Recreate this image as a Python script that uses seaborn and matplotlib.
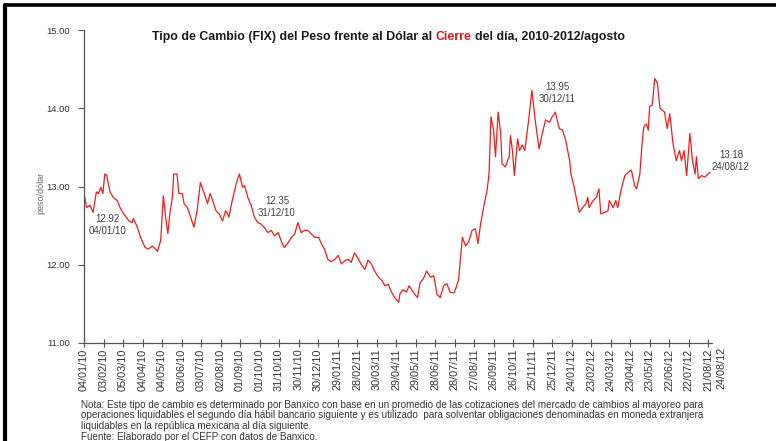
import matplotlib
matplotlib.use("Agg")
import pandas as pd
import matplotlib.pyplot as plt
import seaborn as sns
from matplotlib.lines import Line2D

# Datos (FIX, peso por dolar)
fechas = [
    "2010-01-04", "2010-01-08", "2010-01-13", "2010-01-18", "2010-01-23", "2010-01-26", "2010-01-30",
    "2010-02-02", "2010-02-05", "2010-02-08", "2010-02-13", "2010-02-18", "2010-02-24",
    "2010-03-01", "2010-03-06", "2010-03-14", "2010-03-19", "2010-03-21", "2010-03-27",
    "2010-04-01", "2010-04-08", "2010-04-13", "2010-04-19", "2010-04-24", "2010-04-27",
    "2010-05-02", "2010-05-06", "2010-05-09", "2010-05-13", "2010-05-16", "2010-05-20", "2010-05-22",
    "2010-05-27", "2010-05-30", "2010-06-04", "2010-06-07", "2010-06-12", "2010-06-17", "2010-06-22",
    "2010-06-27", "2010-07-02", "2010-07-08", "2010-07-13", "2010-07-17", "2010-07-21", "2010-07-26",
    "2010-07-31", "2010-08-05", "2010-08-10", "2010-08-15", "2010-08-20", "2010-08-26", "2010-08-31",
    "2010-09-05", "2010-09-08", "2010-09-13", "2010-09-18", "2010-09-23", "2010-09-28",
    "2010-10-03", "2010-10-08", "2010-10-14", "2010-10-19", "2010-10-24", "2010-10-30",
    "2010-11-03", "2010-11-08", "2010-11-13", "2010-11-19", "2010-11-24", "2010-11-29",
    "2010-12-04", "2010-12-09", "2010-12-14", "2010-12-20", "2010-12-25", "2010-12-31",
    "2011-01-04", "2011-01-09", "2011-01-14", "2011-01-19", "2011-01-25", "2011-01-30",
    "2011-02-04", "2011-02-09", "2011-02-14", "2011-02-19", "2011-02-24",
    "2011-03-01", "2011-03-06", "2011-03-12", "2011-03-17", "2011-03-22", "2011-03-27",
    "2011-04-02", "2011-04-07", "2011-04-12", "2011-04-17", "2011-04-22", "2011-04-27",
    "2011-05-03", "2011-05-05", "2011-05-10", "2011-05-15", "2011-05-19", "2011-05-23", "2011-05-28",
    "2011-06-01", "2011-06-05", "2011-06-10", "2011-06-15", "2011-06-21", "2011-06-26",
    "2011-07-01", "2011-07-06", "2011-07-11", "2011-07-16", "2011-07-21", "2011-07-27", "2011-07-30",
    "2011-08-03", "2011-08-09", "2011-08-14", "2011-08-19", "2011-08-24", "2011-08-29",
    "2011-09-02", "2011-09-06", "2011-09-11", "2011-09-16", "2011-09-19", "2011-09-22", "2011-09-26",
    "2011-09-29", "2011-10-03", "2011-10-07", "2011-10-09", "2011-10-14", "2011-10-20", "2011-10-22",
    "2011-10-25", "2011-10-28", "2011-11-02", "2011-11-05", "2011-11-09", "2011-11-13", "2011-11-19",
    "2011-11-24", "2011-11-29", "2011-12-05", "2011-12-10", "2011-12-15", "2011-12-21", "2011-12-25",
    "2011-12-28", "2011-12-30",
    "2012-01-05", "2012-01-10", "2012-01-15", "2012-01-21", "2012-01-23", "2012-01-28",
    "2012-02-02", "2012-02-05", "2012-02-10", "2012-02-15", "2012-02-18", "2012-02-20", "2012-02-26",
    "2012-03-02", "2012-03-06", "2012-03-09", "2012-03-15", "2012-03-20", "2012-03-22", "2012-03-28",
    "2012-04-01", "2012-04-04", "2012-04-09", "2012-04-15", "2012-04-20", "2012-04-25", "2012-04-30",
    "2012-05-03", "2012-05-08", "2012-05-11", "2012-05-14", "2012-05-18", "2012-05-21", "2012-05-23",
    "2012-05-27", "2012-05-31", "2012-06-04", "2012-06-08", "2012-06-12", "2012-06-15", "2012-06-19",
    "2012-06-23", "2012-06-28", "2012-07-03", "2012-07-08", "2012-07-11", "2012-07-15", "2012-07-19",
    "2012-07-24", "2012-07-28", "2012-08-01", "2012-08-03", "2012-08-06", "2012-08-11", "2012-08-16",
    "2012-08-21", "2012-08-24",
]
tipo_cambio = [
    12.92, 12.73, 12.76, 12.67, 12.93, 12.91, 12.99,
    12.91, 13.16, 13.14, 12.93, 12.86, 12.82,
    12.72, 12.65, 12.56, 12.54, 12.59, 12.48,
    12.35, 12.22, 12.20, 12.24, 12.20, 12.17,
    12.31, 12.88, 12.65, 12.40, 12.65, 12.86, 13.16,
    13.16, 12.91, 12.91, 12.78, 12.73, 12.61, 12.48,
    12.69, 13.05, 12.91, 12.78, 12.91, 12.82, 12.69,
    12.65, 12.56, 12.69, 12.61, 12.82, 13.03, 13.16,
    12.99, 13.01, 12.86, 12.76, 12.61, 12.54,
    12.52, 12.48, 12.41, 12.44, 12.37, 12.41,
    12.31, 12.22, 12.27, 12.35, 12.39, 12.54,
    12.41, 12.44, 12.44, 12.39, 12.35, 12.35,
    12.27, 12.20, 12.07, 12.04, 12.07, 12.12,
    12.01, 12.05, 12.07, 12.03, 12.15,
    12.09, 12.01, 11.94, 12.06, 12.01, 11.92,
    11.84, 11.80, 11.73, 11.75, 11.65, 11.58,
    11.52, 11.63, 11.68, 11.65, 11.73, 11.68, 11.62,
    11.58, 11.77, 11.82, 11.92, 11.84, 11.86,
    11.62, 11.58, 11.73, 11.76, 11.65, 11.64, 11.70,
    11.80, 12.35, 12.24, 12.30, 12.44, 12.46,
    12.27, 12.52, 12.75, 12.95, 13.16, 13.89, 13.72,
    13.38, 13.95, 13.68, 13.29, 13.25, 13.38, 13.65,
    13.46, 13.14, 13.61, 13.46, 13.53, 13.46, 13.85,
    14.23, 13.85, 13.48, 13.68, 13.85, 13.82, 13.89,
    13.92, 13.95,
    13.74, 13.72, 13.59, 13.33, 13.16, 12.99,
    12.78, 12.67, 12.73, 12.78, 12.86, 12.73, 12.82,
    12.86, 12.97, 12.65, 12.67, 12.69, 12.82, 12.73,
    12.82, 12.73, 12.95, 13.14, 13.18, 13.21, 13.01,
    12.97, 13.16, 13.50, 13.76, 13.80, 13.72, 14.02,
    14.04, 14.38, 14.32, 14.00, 13.97, 13.95, 13.74,
    13.93, 13.55, 13.33, 13.46, 13.33, 13.46, 13.14,
    13.68, 13.33, 13.16, 13.38, 13.10, 13.14, 13.12,
    13.16, 13.18,
]

etiquetas_x = [
    "04/01/10", "03/02/10", "05/03/10", "04/04/10", "04/05/10", "03/06/10", "03/07/10",
    "02/08/10", "01/09/10", "01/10/10", "31/10/10", "30/11/10", "30/12/10", "29/01/11",
    "28/02/11", "30/03/11", "29/04/11", "29/05/11", "28/06/11", "28/07/11", "27/08/11",
    "26/09/11", "26/10/11", "25/11/11", "25/12/11", "24/01/12", "23/02/12", "24/03/12",
    "23/04/12", "23/05/12", "22/06/12", "22/07/12", "21/08/12",
]
ultima_fecha = "24/08/12"
yticks = [11, 12, 13, 14, 15]

# puntos destacados: (fecha, valor)
destacados = [("04/01/10", 12.92), ("31/12/10", 12.35), ("30/12/11", 13.95), ("24/08/12", 13.18)]
desplazamientos = [(17, -23), (-30, 22), (1.5, 13.5), (15, 8.5)]

nota = [
    "Nota: Este tipo de cambio es determinado por Banxico con base en un promedio de las cotizaciones del mercado de cambios al mayoreo para",
    "operaciones liquidables el segundo día hábil bancario siguiente y es utilizado  para solventar obligaciones denominadas en moneda extranjera",
    "liquidables en la república mexicana al día siguiente.",
    "Fuente: Elaborado por el CEFP con datos de Banxico.",
]

sns.set_style("ticks")
plt.rcParams["font.family"] = ["Liberation Sans", "DejaVu Sans"]

df = pd.DataFrame({"fecha": pd.to_datetime(fechas), "tipo_cambio": tipo_cambio})

W, H = 776, 441
fig = plt.figure(figsize=(W / 100, H / 100), dpi=100)
ax = fig.add_axes([84 / W, 98 / H, 628 / W, 313 / H])

sns.lineplot(data=df, x="fecha", y="tipo_cambio", ax=ax, color="#f21c1c", linewidth=0.9)

ax.set_xlim(pd.Timestamp("2010-01-04"), pd.Timestamp("2012-08-27"))
ax.set_ylim(11, 15)
ax.set_yticks(yticks)
ax.set_yticklabels([f"{v:.2f}" for v in yticks], fontsize=6.8, color="#333333")
xt = pd.to_datetime(etiquetas_x, format="%d/%m/%y")
ax.set_xticks(xt)
ax.set_xticklabels(etiquetas_x, rotation=90, fontsize=7.8, color="#333333")
ax.tick_params(axis="x", direction="inout", length=6, width=0.8, color="#555555", pad=1)
ax.tick_params(axis="y", direction="out", length=4, width=0.8, color="#555555", pad=6)
for s in ["top", "right"]:
    ax.spines[s].set_visible(False)
for s in ["left", "bottom"]:
    ax.spines[s].set_color("#555555")
    ax.spines[s].set_linewidth(0.9)

ax.set_xlabel("")
ax.set_ylabel("peso/dólar", fontsize=6.5, color="#666666")
ax.yaxis.set_label_coords(-0.062, 0.48)

# etiqueta de la ultima fecha, fuera del eje
ax.annotate(ultima_fecha, xy=(pd.to_datetime(ultima_fecha, format="%d/%m/%y"), 0),
            xycoords=("data", "axes fraction"), xytext=(8, -2.5), textcoords="offset points",
            rotation=90, ha="center", va="top", fontsize=7.8, color="#333333")

for (f, v), (dx, dy) in zip(destacados, desplazamientos):
    ax.annotate(f"{v:.2f}\n{f}", xy=(pd.to_datetime(f, format="%d/%m/%y"), v),
                xytext=(dx, dy), textcoords="offset points", ha="center", va="center",
                fontsize=7, color="#404040", linespacing=1.25)

# titulo con "Cierre" en rojo
t1 = fig.text(152 / W, 1 - 43 / H, "Tipo de Cambio (FIX) del Peso frente al Dólar al",
              fontsize=8.9, fontweight="bold", color="#1a1a1a", va="bottom", ha="left")
t2 = ax.annotate("Cierre", xy=(1, 0), xycoords=t1, xytext=(2.5, 0), textcoords="offset points",
                 fontsize=8.9, fontweight="bold", color="#e8141c", va="bottom", ha="left")
ax.annotate("del día, 2010-2012/agosto", xy=(1, 0), xycoords=t2, xytext=(2.5, 0),
            textcoords="offset points", fontsize=8.9, fontweight="bold", color="#1a1a1a",
            va="bottom", ha="left")

for i, linea in enumerate(nota):
    fig.text(81 / W, 1 - (405 + i * 10.5) / H, linea, fontsize=7.1, color="#333333",
             va="center", ha="left")

# marco negro (borde superior e izquierdo)
fig.add_artist(Line2D([5 / W, 1], [1 - 5 / H, 1 - 5 / H], transform=fig.transFigure, color="black", lw=2.6))
fig.add_artist(Line2D([5 / W, 5 / W], [0, 1 - 5 / H], transform=fig.transFigure, color="black", lw=3))

fig.savefig("out.png", dpi=100)
